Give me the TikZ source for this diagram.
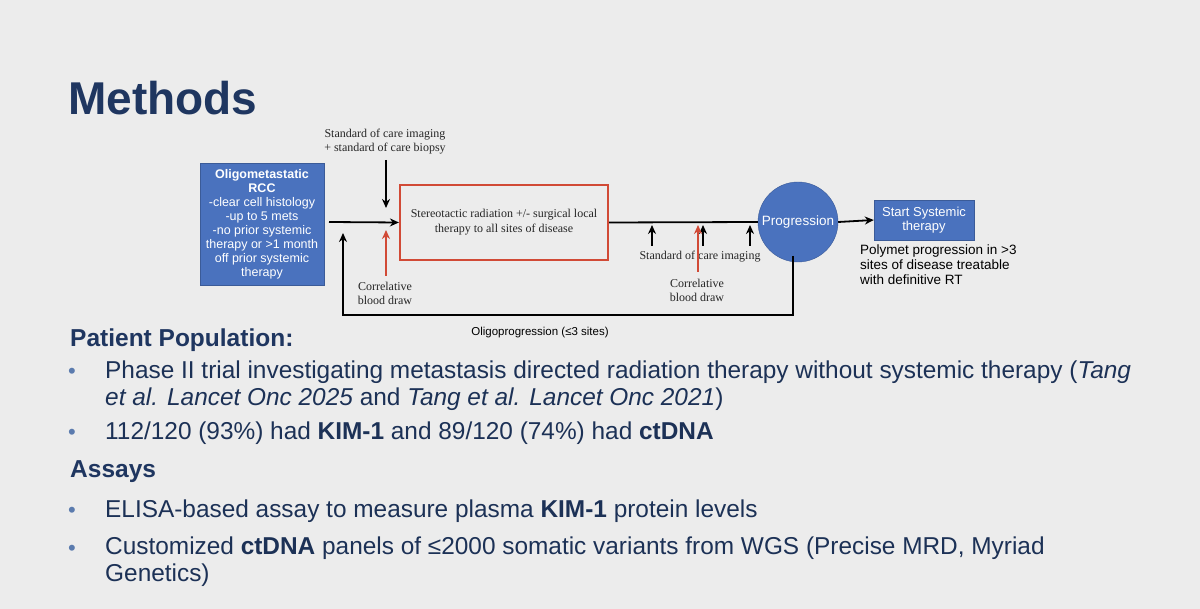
\documentclass[tikz,border=0pt]{standalone}
\usepackage{fontspec}
\setmainfont{Liberation Sans}
\newfontfamily\serf{Liberation Serif}
\usetikzlibrary{arrows.meta}
\definecolor{bg}{HTML}{ECECEC}
\definecolor{navy}{HTML}{1F3660}
\definecolor{bxblue}{HTML}{4A72BE}
\definecolor{redb}{HTML}{D14A36}
\definecolor{bul}{HTML}{5B7BAE}
\begin{document}
\begin{tikzpicture}[x=1pt,y=-1pt,
  ser/.style={font=\serf\fontsize{12}{14}\selectfont,align=center,text=black!85},
  arr/.style={-{Stealth[length=9pt,width=8pt]},line width=1.8pt},
  rarr/.style={-{Stealth[length=9pt,width=8pt]},line width=1.8pt,draw=redb},
  btxt/.style={anchor=base west,font=\fontsize{24.4}{27}\selectfont,text=navy!90!black,align=left,inner sep=0pt},
  btxt2/.style={btxt,anchor=north west},
  dot/.style={anchor=base west,font=\fontsize{22}{27}\selectfont,text=bul,inner sep=0pt},
  hd/.style={anchor=base west,inner sep=0pt,text=navy,font=\bfseries\fontsize{24.5}{28}\selectfont}]
\useasboundingbox (0,0) rectangle (1200,609);
\fill[bg] (0,0) rectangle (1200,609);
\node[anchor=base west,inner sep=0pt,text=navy,font=\bfseries\fontsize{46}{50}\selectfont] (title) at (68,115) {Methods};
% diagram
\node[fill=bxblue,draw=bxblue!80!black,minimum width=124pt,minimum height=122pt,text=white,align=center,font=\fontsize{12.5}{14}\selectfont] (rcc) at (262,224) {\textbf{Oligometastatic}\\\textbf{RCC}\\-clear cell histology\\-up to 5 mets\\-no prior systemic\\therapy or >1 month\\off prior systemic\\therapy};
\node[draw=redb,line width=2.2pt,minimum width=208pt,minimum height=75pt,ser,font=\serf\fontsize{12}{15}\selectfont] (srt) at (504,222.5) {Stereotactic radiation +/- surgical local\\therapy to all sites of disease};
\node[circle,fill=bxblue,draw=bxblue!80!black,minimum size=80pt,inner sep=0pt,text=white,font=\fontsize{13.5}{15}\selectfont] (prog) at (798,222) {Progression};
\node[fill=bxblue,draw=bxblue!80!black,minimum width=100pt,minimum height=40pt,text=white,align=center,font=\fontsize{13}{14}\selectfont] (sys) at (924,220) {Start Systemic\\therapy};
\node[anchor=north west,align=left,inner sep=0pt,font=\fontsize{13.5}{15}\selectfont] (poly) at (860,245) {Polymet progression in >3\\sites of disease treatable\\with definitive RT};
\node[ser] (soc1) at (385,142) {Standard of care imaging\\+ standard of care biopsy};
\node[ser] (cb1) at (385,293) {Correlative\\blood draw};
\node[ser] (soc2) at (700,257) {Standard of care imaging};
\node[ser] (cb2) at (697,290) {Correlative\\blood draw};
\node[font=\fontsize{11.5}{14}\selectfont] (olig) at (540,333) {Oligoprogression (≤3 sites)};
\coordinate (j1) at (329,222);
\draw[arr] (j1) -- (srt.west);
\draw[arr] (386,160) -- (386,208);
\draw[rarr] (386,276) -- (386,230);
\draw[line width=1.8pt] (srt.east) -- (prog.west);
\draw[arr] (prog.east) -- (sys.west);
\draw[arr] (793,256) -- (793,315) -- (343,315) -- (343,233);
\foreach \x in {652,703,750} \draw[arr] (\x,246) -- (\x,225);
\draw[rarr] (698,272) -- (698,225);
% text
\node[hd] (pp) at (70,347) {Patient Population:};
\node[dot] (d1) at (68,379) {•};
\node[btxt2] (t1) at (105,361) {Phase II trial investigating metastasis directed radiation therapy without systemic therapy (\textit{Tang}\\\textit{et al. Lancet Onc 2025} and \textit{Tang et al. Lancet Onc 2021})};
\node[dot] (d2) at (68,440) {•};
\node[btxt] (t2) at (105,440) {112/120 (93\%) had \textbf{KIM-1} and 89/120 (74\%) had \textbf{ctDNA}};
\node[hd] (as) at (70,478) {Assays};
\node[dot] (d3) at (68,517) {•};
\node[btxt] (t3) at (105,517) {ELISA-based assay to measure plasma \textbf{KIM-1} protein levels};
\node[dot] (d4) at (68,555) {•};
\node[btxt2] (t4) at (105,537) {Customized \textbf{ctDNA} panels of ≤2000 somatic variants from WGS (Precise MRD, Myriad\\Genetics)};
\end{tikzpicture}
\end{document}
